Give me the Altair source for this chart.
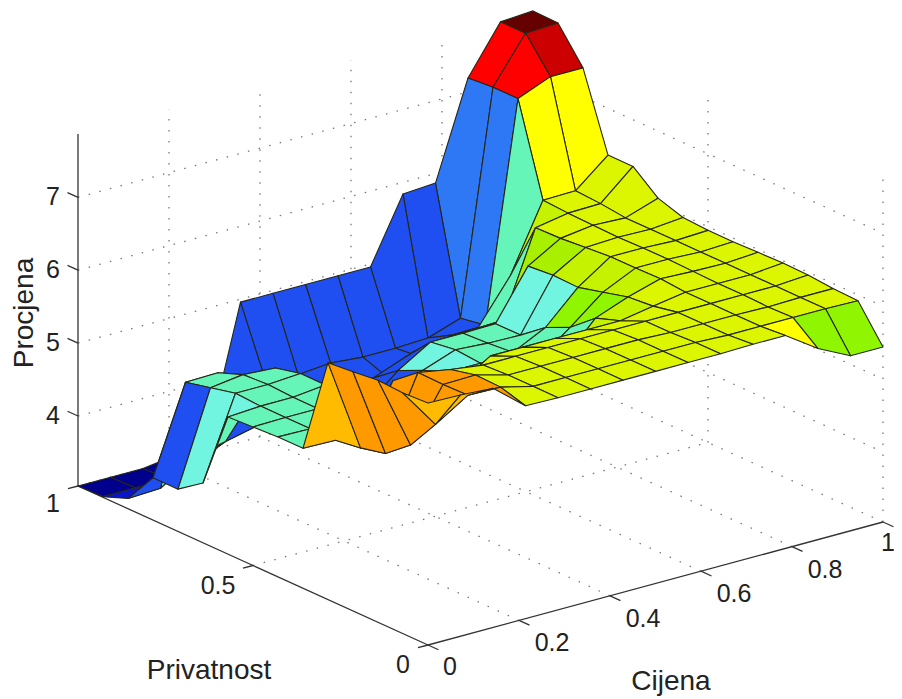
import altair as alt
import pandas as pd

# Surface heights: one list per Cijena step (0..14 of 14), each running over Privatnost steps 0..14 of 14
Z_I0 = [6.36,6.34,6.36,6.32,6.29,4.96,4.96,4.94,4.92,3.86,3.62,3.62,3.18,3.05,3.04]
Z_I1 = [6.35,5.79,5.35,5.08,5.00,4.95,4.95,4.95,4.95,4.97,4.89,4.81,3.20,3.05,3.04]
Z_I2 = [6.32,6.07,6.06,6.07,5.80,4.95,4.95,4.95,4.95,4.97,4.95,4.82,3.50,3.05,3.04]
Z_I3 = [5.96,6.06,6.07,5.99,5.50,4.95,4.95,4.95,5.00,5.00,4.92,4.30,3.60,3.20,3.10]
Z_I4 = [5.95,5.95,5.95,5.93,5.50,4.90,4.60,4.40,4.20,4.10,4.00,3.90,3.70,3.50,3.20]
Z_I5 = [5.95,5.95,5.95,5.93,5.78,5.20,4.90,4.80,4.60,4.30,4.00,4.00,3.85,4.04,4.96]
Z_I6 = [5.95,5.95,5.95,5.93,5.78,5.10,4.97,4.97,4.84,4.68,4.42,4.10,3.85,4.00,4.96]
Z_I7 = [5.95,5.95,5.95,5.93,5.78,5.05,5.00,4.97,5.00,4.95,4.59,4.14,3.90,4.04,4.96]
Z_I8 = [5.95,5.95,5.95,5.93,5.78,5.20,5.05,5.00,4.97,4.95,4.70,4.38,3.87,4.00,4.96]
Z_I9 = [5.95,5.95,5.93,5.93,5.78,5.66,5.38,5.22,4.96,4.96,4.71,4.45,4.04,4.00,4.96]
Z_I10 = [5.96,5.93,5.93,5.93,5.86,5.83,5.74,5.65,5.66,5.63,4.73,4.47,4.22,4.02,5.84]
Z_I11 = [5.96,5.93,5.93,5.93,5.93,5.96,5.95,5.95,5.92,5.89,5.88,5.07,4.23,4.17,5.87]
Z_I12 = [5.66,5.93,5.92,5.93,5.93,5.94,5.95,5.95,5.94,5.95,5.96,5.98,7.22,7.22,7.19]
Z_I13 = [5.44,5.93,5.93,5.93,5.93,5.93,5.93,5.93,5.93,5.93,5.97,5.99,7.40,7.84,7.84]
Z_I14 = [5.44,5.92,5.93,5.96,5.97,5.96,5.95,5.95,5.97,6.08,6.36,6.36,7.40,7.86,7.87]
Z = [Z_I0,Z_I1,Z_I2,Z_I3,Z_I4,Z_I5,Z_I6,Z_I7,Z_I8,Z_I9,Z_I10,Z_I11,Z_I12,Z_I13,Z_I14]

# Face colour classes, one string per Privatnost step (13 first), one letter per Cijena step
FACES = {
    13: "NNNDBBBBBBBLRK",
    12: "DDBBBBBBBBBLRE",
    11: "BCCBBBBBBBBCUU",
    10: "BCCBBBBBBBCHYY",
    9:  "TCCBBBBBBCJYYY",
    8:  "TCCBBBTCCTJYYY",
    7:  "CCCCBTTCCTHYYY",
    6:  "CCCCBCCCCGHYYY",
    5:  "CCCCCCCCCGHYYY",
    4:  "WOOOYYHHHHYYYY",
    3:  "OOOYYYYYYYYYYY",
    2:  "OOOYYYYYYYYYYY",
    1:  "OOOYYYYYYYYYYY",
    0:  "WWOYYYYYYYYUGG",
}
PALETTE = {"N":"#00008c","D":"#0a14c8","B":"#1f4ff0","L":"#2f78f5","C":"#66f5b8","T":"#72f5e0",
           "G":"#8ff500","J":"#a8f000","H":"#c4f200","Y":"#dcf500","U":"#ffff00","O":"#ff9900","W":"#ffbb00",
           "R":"#ff0000","E":"#cc0000","K":"#660000"}

Z_TICKS = [4, 5, 6, 7]
C_TICKS = [0, 0.2, 0.4, 0.6, 0.8, 1]
P_TICKS = [0, 0.5, 1]
Z_MIN, Z_MAX = 3.04, 7.87
FONT = "Liberation Sans"
N = 14

# surface faces, back to front
rows = []
for j in range(N - 1, -1, -1):
    for i in range(N - 1, -1, -1):
        cell = f"{j:02d}-{i:02d}"
        col = PALETTE[FACES[j][i]]
        for k, (a, b) in enumerate([(i, j), (i + 1, j), (i + 1, j + 1), (i, j + 1)]):
            rows.append(dict(cell=cell, k=k, c=a / N, p=b / N, z=Z[a][b], col=col))
faces = pd.DataFrame(rows)

def seg_table(segs):
    out = []
    for n, (s, e) in enumerate(segs):
        out.append(dict(line=n, k=0, c=s[0], p=s[1], z=s[2]))
        out.append(dict(line=n, k=1, c=e[0], p=e[1], z=e[2]))
    return pd.DataFrame(out)

grid_segs = []
for c in C_TICKS[1:]:
    grid_segs.append(((c, 0, Z_MIN), (c, 1, Z_MIN)))
    grid_segs.append(((c, 1, Z_MIN), (c, 1, Z_MAX)))
for p in P_TICKS[1:]:
    grid_segs.append(((0, p, Z_MIN), (1, p, Z_MIN)))
for p in P_TICKS[:-1]:
    grid_segs.append(((1, p, Z_MIN), (1, p, Z_MAX)))
for z in Z_TICKS:
    grid_segs.append(((0, 1, z), (1, 1, z)))
    grid_segs.append(((1, 1, z), (1, 0, z)))
grid = seg_table(grid_segs)

axis_segs = [((0, 1, Z_MIN), (0, 1, Z_MAX)), ((0, 1, Z_MIN), (0, 0, Z_MIN)), ((0, 0, Z_MIN), (1, 0, Z_MIN))]
for z in Z_TICKS:
    axis_segs.append(((0, 1, z), (0, 1.03, z)))
for c in C_TICKS:
    axis_segs.append(((c, 0, Z_MIN), (c, -0.03, Z_MIN)))
for p in P_TICKS:
    axis_segs.append(((0, p, Z_MIN), (-0.022, p, Z_MIN)))
axes = seg_table(axis_segs)

X = alt.X("sx:Q", scale=alt.Scale(domain=[8, 894], nice=False, zero=False), axis=None)
Y = alt.Y("sy:Q", scale=alt.Scale(domain=[698, 8], nice=False, zero=False), axis=None)

def proj(ch):
    return ch.transform_calculate(
        sx="428 + 455*datum.c - 350*datum.p",
        sy="645 - 123*datum.c - 159*datum.p - 72.9*(datum.z - 3.04)",
    )

grid_layer = proj(alt.Chart(grid).mark_line(color="#777777", strokeWidth=1.3, strokeDash=[1.5, 9.5])).encode(
    x=X, y=Y, detail="line:N", order="k:Q")
axis_layer = proj(alt.Chart(axes).mark_line(color="#333333", strokeWidth=1.3)).encode(
    x=X, y=Y, detail="line:N", order="k:Q")
surface = proj(alt.Chart(faces).mark_line(interpolate="linear-closed", strokeWidth=1.1, strokeJoin="round")).encode(
    x=X, y=Y, detail="cell:N", order="k:Q",
    fill=alt.Fill("col:N", scale=None, legend=None),
    stroke=alt.value("#262617"))

def labels(df, dx, dy):
    return proj(alt.Chart(df).mark_text(font=FONT, fontSize=25, color="#222222", dx=dx, dy=dy)).encode(
        x=X, y=Y, text="t:N")

z_lab = labels(pd.DataFrame([dict(c=0, p=1, z=z, t=str(z)) for z in Z_TICKS]), -25, 0)
c_lab = labels(pd.DataFrame([dict(c=c, p=0, z=Z_MIN, t=f"{c:g}") for c in C_TICKS[1:-1]]), 33, 23)
c0_lab = labels(pd.DataFrame([dict(c=0, p=0, z=Z_MIN, t="0")]), 22, 22)
c1_lab = labels(pd.DataFrame([dict(c=1, p=0, z=Z_MIN, t="1")]), 5, 21)
p_lab = labels(pd.DataFrame([dict(c=0, p=0.5, z=Z_MIN, t="0.5")]), -35, 20)
p0_lab = labels(pd.DataFrame([dict(c=0, p=0, z=Z_MIN, t="0")]), -25, 20)
p1_lab = labels(pd.DataFrame([dict(c=0, p=1, z=Z_MIN, t="1")]), -25, 18)

def title(text, x, y, angle=0):
    return alt.Chart(pd.DataFrame({"t": [text]})).mark_text(
        font=FONT, fontSize=28, color="#222222", angle=angle).encode(
        x=alt.value(x - 8), y=alt.value(y - 8), text="t:N")

chart = alt.layer(
    grid_layer, axis_layer, surface,
    z_lab, c_lab, c0_lab, c1_lab, p_lab, p0_lab, p1_lab,
    title("Procjena", 25, 313, 270), title("Privatnost", 209, 671), title("Cijena", 671, 682),
).properties(width=886, height=690, padding=0, autosize=alt.AutoSizeParams(type="none")).configure_view(stroke=None)

chart.save("out.html", embed_options={"renderer": "svg", "actions": False})
